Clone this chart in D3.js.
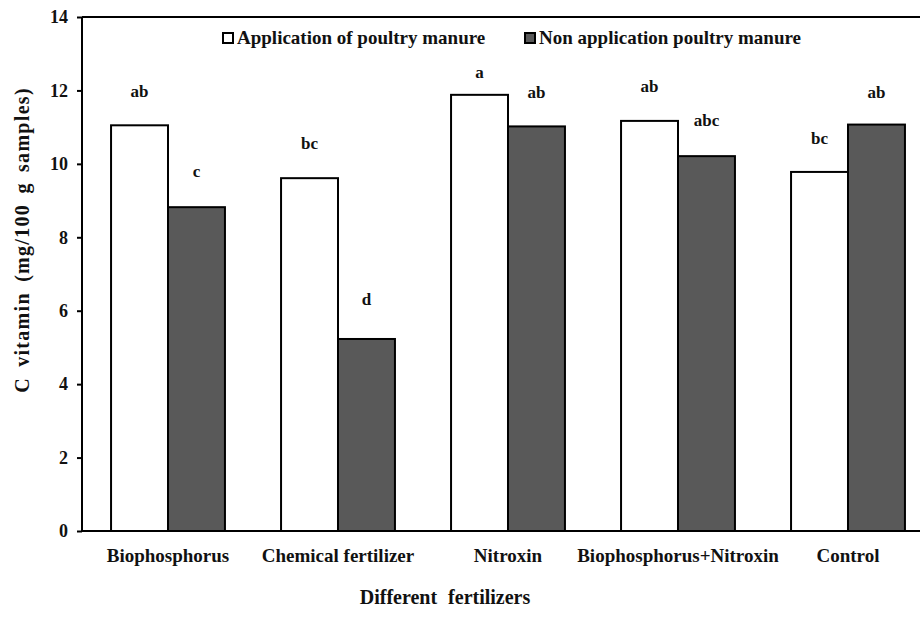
<!DOCTYPE html>
<html>
<head>
<meta charset="utf-8">
<script src="https://cdn.jsdelivr.net/npm/d3@7"></script>
<style>
  body { margin: 0; background: #fff; }
  #graf { width: 920px; height: 632px; }
</style>
</head>
<body>
<div id="graf"></div>
<script>
// -- Data
categorias = ['Biophosphorus', 'Chemical fertilizer', 'Nitroxin', 'Biophosphorus+Nitroxin', 'Control']
series = ['Application of poultry manure', 'Non application poultry manure']
conGallinaza = [11.05, 9.61, 11.88, 11.17, 9.78]
sinGallinaza = [8.82, 5.23, 11.02, 10.21, 11.07]
letrasCon = ['ab', 'bc', 'a', 'ab', 'bc']
letrasSin = ['c', 'd', 'ab', 'abc', 'ab']
// -- letter baselines (in axis units, where the letters sit)
letrasConY = [11.82, 10.41, 12.34, 11.96, 10.54]
letrasSinY = [9.64, 6.16, 11.80, 11.03, 11.80]
yTicks = [0, 2, 4, 6, 8, 10, 12, 14]

colores = ['#ffffff', '#595959']
fuente = "'Liberation Serif', 'Times New Roman', serif"

datos = categorias.map((c, i) => ({
    cat: c,
    vals: [
        {serie: series[0], v: conGallinaza[i], letra: letrasCon[i], ly: letrasConY[i]},
        {serie: series[1], v: sinGallinaza[i], letra: letrasSin[i], ly: letrasSinY[i]}
    ]
}))

// -- Canvas
ancho_total = 920
alto_total = 632
margins = {top: 17, left: 82, right: -13, bottom: 101}
ancho = ancho_total - margins.left - margins.right
alto = alto_total - margins.top - margins.bottom

svg = d3.select('#graf').append('svg')
        .attr('width', ancho_total)
        .attr('height', alto_total)
        .attr('font-family', fuente)
        .attr('font-weight', 'bold')
        .style('overflow', 'hidden')

g = svg.append('g')
        .attr('transform', `translate(${margins.left}, ${margins.top})`)

// -- Scales
x0 = d3.scaleBand().domain(categorias).range([1, ancho]).paddingInner(0.33).paddingOuter(0.165)
x1 = d3.scaleBand().domain(series).range([0, x0.bandwidth()])
y = d3.scaleLinear().domain([0, 14]).range([alto, 0])

// -- Bars
grupos = g.selectAll('g.grupo')
        .data(datos)
        .enter().append('g')
        .attr('class', 'grupo')
        .attr('transform', d => `translate(${x0(d.cat)},0)`)

grupos.selectAll('rect')
        .data(d => d.vals)
        .enter().append('rect')
        .attr('x', d => x1(d.serie))
        .attr('y', d => y(d.v))
        .attr('width', x1.bandwidth())
        .attr('height', d => y(0) - y(d.v))
        .attr('fill', (d, i) => colores[i])
        .attr('stroke', '#000')
        .attr('stroke-width', 2)

grupos.selectAll('text.letra')
        .data(d => d.vals)
        .enter().append('text')
        .attr('class', 'letra')
        .attr('x', d => x1(d.serie) + x1.bandwidth() / 2)
        .attr('y', d => y(d.ly))
        .attr('text-anchor', 'middle')
        .attr('font-size', '17px')
        .attr('fill', '#111')
        .text(d => d.letra)

// -- Axes
yAxis = d3.axisLeft(y).tickValues(yTicks).tickSize(5).tickPadding(9).tickFormat(d3.format('d'))
gy = g.append('g').call(yAxis)
        .attr('font-family', fuente)
        .attr('font-size', '18px')
gy.select('.domain').attr('stroke-width', 2).attr('d', `M0,0V${alto}`)
gy.selectAll('.tick line').attr('stroke-width', 2)
gy.selectAll('.tick text').attr('fill', '#111')

// -- frame lines (top + bottom)
g.append('line').attr('x1', 0).attr('x2', ancho).attr('y1', 0).attr('y2', 0)
        .attr('stroke', '#000').attr('stroke-width', 2)
g.append('line').attr('x1', 0).attr('x2', ancho).attr('y1', alto).attr('y2', alto)
        .attr('stroke', '#000').attr('stroke-width', 2)

// -- category labels
g.selectAll('text.cat')
        .data(categorias)
        .enter().append('text')
        .attr('class', 'cat')
        .attr('x', d => x0(d) + x0.bandwidth() / 2)
        .attr('y', alto + 31)
        .attr('text-anchor', 'middle')
        .attr('font-size', '19px')
        .attr('fill', '#111')
        .text(d => d)

// -- axis titles
svg.append('text')
        .attr('x', 445)
        .attr('y', 604)
        .attr('text-anchor', 'middle')
        .attr('font-size', '20px')
        .attr('word-spacing', '6px')
        .attr('fill', '#111')
        .text('Different fertilizers')

svg.append('text')
        .attr('transform', 'translate(29, 240) rotate(-90)')
        .attr('text-anchor', 'middle')
        .attr('font-size', '20px')
        .attr('letter-spacing', '1.3px')
        .attr('word-spacing', '4px')
        .attr('fill', '#111')
        .text('C vitamin (mg/100 g samples)')

// -- Legend
leyX = [223, 525]
ley = svg.selectAll('g.ley')
        .data(series)
        .enter().append('g')
        .attr('class', 'ley')
        .attr('transform', (d, i) => `translate(${leyX[i]}, 33)`)
ley.append('rect')
        .attr('width', 10).attr('height', 10)
        .attr('fill', (d, i) => colores[i])
        .attr('stroke', '#000').attr('stroke-width', 2)
ley.append('text')
        .attr('x', 14)
        .attr('y', 11)
        .attr('font-size', '19px')
        .attr('fill', '#111')
        .text(d => d)
</script>
</body>
</html>
